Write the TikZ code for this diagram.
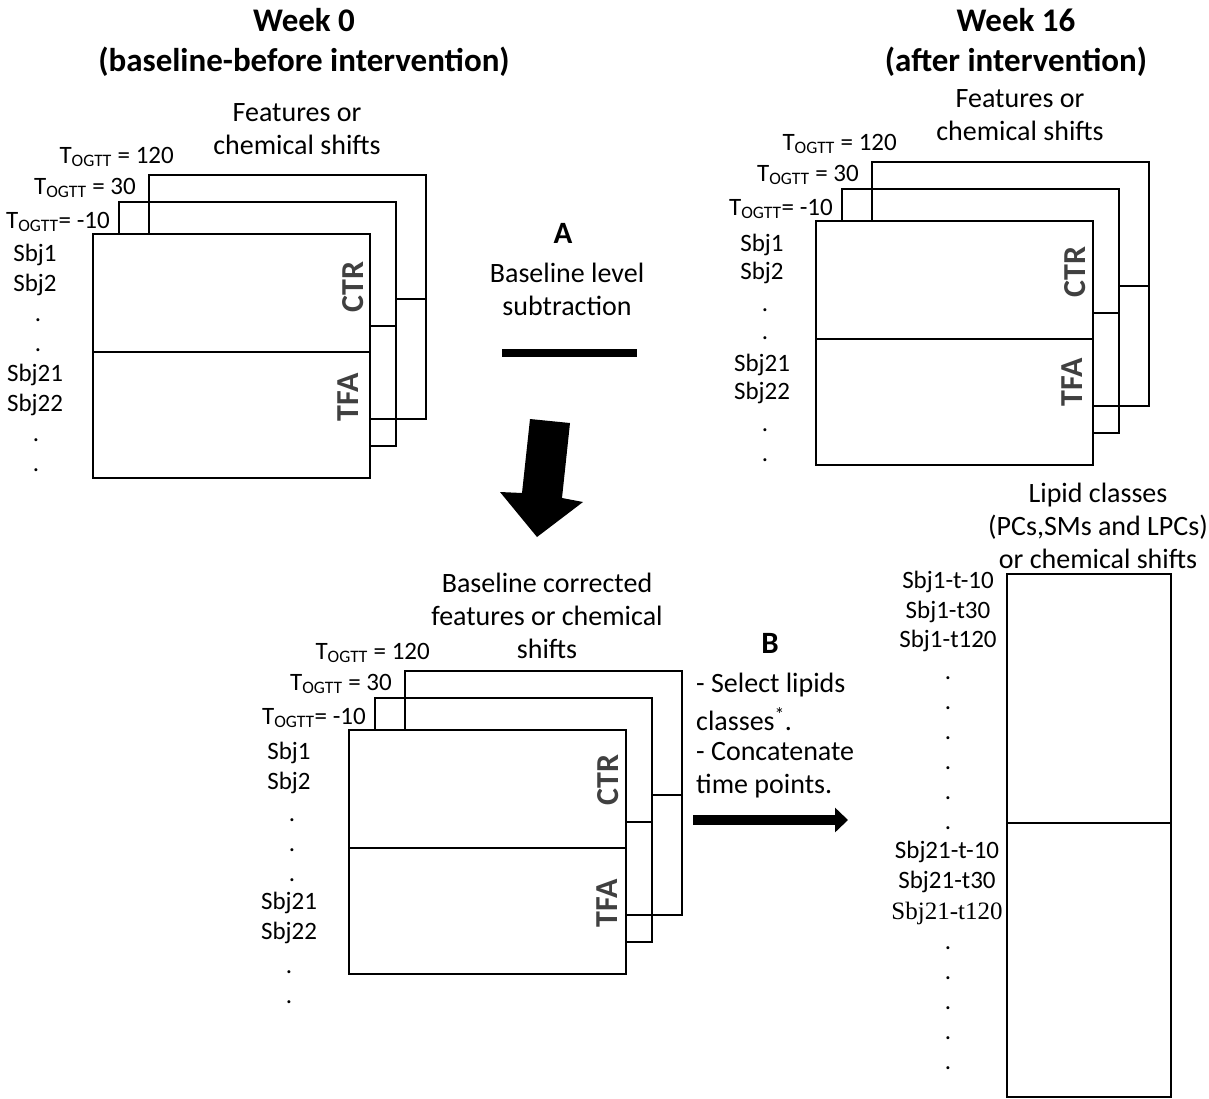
\documentclass[tikz,border=0pt]{standalone}
\usepackage{fontspec}
\setmainfont{Carlito}
\newfontfamily\serifface{Liberation Serif}
\usetikzlibrary{arrows.meta}
\definecolor{lblgray}{HTML}{404040}
\newcommand\mystack{%
  % back layer
  \draw[frame] (149,234) -- (149,175) -- (426,175) -- (426,419) -- (370,419);
  \draw[frame] (396,299) -- (426,299);
  % middle layer
  \draw[frame] (119,234) -- (119,202) -- (396,202) -- (396,446) -- (370,446);
  \draw[frame] (370,326) -- (396,326);
  % front layer
  \draw[frame] (93,234) rectangle (370,478);
  \draw[frame] (93,352) -- (370,352);
  % time labels
  \node[tlab] at (174,157) {T\textsubscript{OGTT} = 120};
  \node[tlab] at (136,188) {T\textsubscript{OGTT} = 30};
  \node[tlab] at (110,222) {T\textsubscript{OGTT}= -10};
}
\begin{document}
\begin{tikzpicture}[x=1pt,y=-1pt,
  frame/.style={line width=1.6pt},
  lbl/.style={font=\fontsize{25}{30}\selectfont, inner sep=0pt},
  btxt/.style={font=\fontsize{28}{33}\selectfont, inner sep=0pt, anchor=west},
  hdr/.style={font=\fontsize{28}{33}\selectfont, inner sep=0pt, align=center},
  tlab/.style={font=\fontsize{25}{30}\selectfont, inner sep=0pt, anchor=east},
  grp/.style={font=\fontsize{32}{36}\selectfont\bfseries, text=lblgray, rotate=90, inner sep=0pt},
  ttl/.style={font=\fontsize{33}{40}\selectfont\bfseries, inner sep=0pt, align=center},
  lett/.style={font=\fontsize{31}{36}\selectfont\bfseries, inner sep=0pt},
  dotlbl/.style={font=\fontsize{25}{30}\selectfont, inner sep=0pt},
]
\useasboundingbox (0,0) rectangle (1209,1098);

% ---------- titles ----------
\node[ttl] (t0) at (304,42) {Week 0\\(baseline-before intervention)};
\node[ttl] (t16) at (1016,42) {Week 16\\(after intervention)};

% ---------- left block (week 0) ----------
\begin{scope}
  \mystack
  \node[hdr] (h1) at (297,129) {Features or\\chemical shifts};
  \node[grp] (ctr1) at (353,287) {CTR};
  \node[grp] (tfa1) at (348,397) {TFA};
  \node[lbl] (l1a) at (35,255) {Sbj1};
  \node[lbl] (l1b) at (35,285) {Sbj2};
  \node[dotlbl] at (38,320) {.};
  \node[dotlbl] at (38,350) {.};
  \node[lbl] (l1c) at (35,375) {Sbj21};
  \node[lbl] (l1d) at (35,405) {Sbj22};
  \node[dotlbl] at (36,440) {.};
  \node[dotlbl] at (36,470) {.};
\end{scope}

% ---------- right block (week 16) ----------
\begin{scope}[shift={(723,-13)}]
  \mystack
  \node[hdr] (h2) at (297,128) {Features or\\chemical shifts};
  \node[grp] (ctr2) at (352,285) {CTR};
  \node[grp] (tfa2) at (349,395) {TFA};
  \node[lbl] (l2a) at (39,258) {Sbj1};
  \node[lbl] (l2b) at (39,286) {Sbj2};
  \node[dotlbl] at (42,323) {.};
  \node[dotlbl] at (42,351) {.};
  \node[lbl] (l2c) at (39,378) {Sbj21};
  \node[lbl] (l2d) at (39,406) {Sbj22};
  \node[dotlbl] at (42,443) {.};
  \node[dotlbl] at (42,473) {.};
\end{scope}

% ---------- bottom block (corrected) ----------
\begin{scope}[shift={(256,496)}]
  \mystack
  \node[hdr] (h3) at (291,120) {Baseline corrected\\features or chemical\\shifts};
  \node[grp] (ctr3) at (352,284) {CTR};
  \node[grp] (tfa3) at (351,407) {TFA};
  \node[lbl] (l3a) at (33,257) {Sbj1};
  \node[lbl] (l3b) at (33,287) {Sbj2};
  \node[dotlbl] at (36,324) {.};
  \node[dotlbl] at (36,354) {.};
  \node[dotlbl] at (36,384) {.};
  \node[lbl] (l3c) at (33,407) {Sbj21};
  \node[lbl] (l3d) at (33,437) {Sbj22};
  \node[dotlbl] at (33,476) {.};
  \node[dotlbl] at (33,506) {.};
\end{scope}

% ---------- step A ----------
\node[lett] (A) at (563,233) {A};
\node[hdr] (Atxt) at (567,289) {Baseline level\\subtraction};
\coordinate (barL) at (502,353);
\coordinate (barR) at (637,353);
\draw[line width=8pt] (barL) -- (barR);
\fill (530,419) -- (570,423) -- (562,498) -- (583,502) -- (537,537) -- (500,492) -- (522,493) -- cycle;

% ---------- step B ----------
\node[lett] (B) at (770,643) {B};
\node[btxt] (b1) at (696,685) {- Select lipids};
\node[btxt] (b2) at (696,719) {classes\textsuperscript{*}.};
\node[btxt] (b3) at (696,752) {- Concatenate};
\node[btxt] (b4) at (696,786) {time points.};
\coordinate (bs) at (693,820);
\coordinate (be) at (848,820);
\draw[line width=10pt, -{Triangle[length=13pt,width=24pt]}] (bs) -- (be);

% ---------- concatenated matrix ----------
\node[hdr] (h4) at (1098,526) {Lipid classes\\(PCs,SMs and LPCs)\\or chemical shifts};
\draw[frame] (1007,574) rectangle (1171,1097);
\draw[frame] (1007,823) -- (1171,823);
\node[lbl] (r1) at (948,582) {Sbj1-t-10};
\node[lbl] (r2) at (948,612) {Sbj1-t30};
\node[lbl] (r3) at (948,641) {Sbj1-t120};
\foreach \yy in {678,708,738,768,798,828} \node[dotlbl] at (948,\yy) {.};
\node[lbl] (r4) at (947,852) {Sbj21-t-10};
\node[lbl] (r5) at (947,882) {Sbj21-t30};
\node[lbl, font=\fontsize{25}{30}\serifface] (r6) at (947,913) {Sbj21-t120};
\foreach \yy in {948,978,1008,1038,1068} \node[dotlbl] at (948,\yy) {.};
\end{tikzpicture}
\end{document}
